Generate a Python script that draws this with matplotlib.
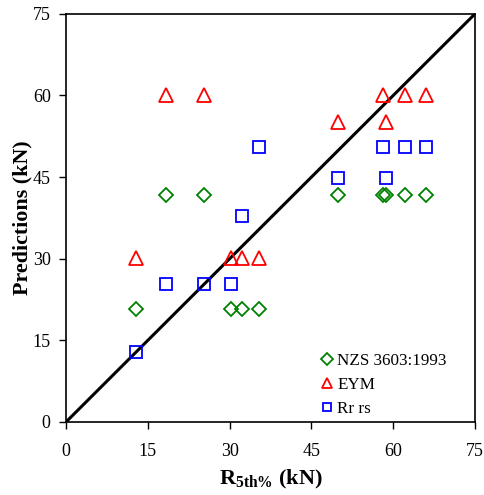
import matplotlib
matplotlib.use("Agg")
import matplotlib.pyplot as plt
import numpy as np

plt.rcParams['font.family'] = ['Liberation Serif', 'DejaVu Serif']
plt.rcParams['mathtext.fontset'] = 'custom'
plt.rcParams['mathtext.rm'] = 'Liberation Serif'
plt.rcParams['mathtext.bf'] = 'Liberation Serif:bold'

# Data
r5th = [12.8, 18.3, 25.3, 30.3, 32.3, 35.4, 49.9, 58.1, 58.7, 62.2, 66.0]
nzs = [20.8, 41.7, 41.7, 20.8, 20.8, 20.8, 41.7, 41.7, 41.7, 41.7, 41.7]
eym = [30.1, 60.1, 60.1, 30.1, 30.1, 30.1, 55.1, 60.1, 55.1, 60.1, 60.1]
rrrs = [12.9, 25.4, 25.4, 25.4, 37.9, 50.6, 44.9, 50.6, 44.9, 50.6, 50.6]
ticks = [0, 15, 30, 45, 60, 75]
lims = [0, 75]

fig = plt.figure(figsize=(4.84, 4.95), dpi=100)
ax = fig.add_axes([0.1364, 0.1475, 0.845, 0.8245])

ax.plot(lims, lims, color='black', lw=2.2, zorder=1)
ax.plot(r5th, nzs, ls='none', marker='D', ms=7.5, mfc='none', mec='#008000', mew=1.3,
        label='NZS 3603:1993', zorder=3)
ax.plot(r5th, eym, ls='none', marker='^', ms=9.5, mfc='none', mec='#ff0000', mew=1.3,
        label='EYM', zorder=3)
ax.plot(r5th, rrrs, ls='none', marker='s', ms=8, mfc='none', mec='#0000ff', mew=1.3,
        label='Rr rs', zorder=3)

ax.set_xlim(lims)
ax.set_ylim(lims)
ax.set_xticks(ticks)
ax.set_yticks(ticks)
ax.tick_params(direction='out', length=5, width=1, labelsize=13, pad=10)
ax.tick_params(axis='y', pad=6)
for s in ax.spines.values():
    s.set_linewidth(1.2)

ax.set_xlabel(r'$\mathbf{R_{5th\%}}$ (kN)', fontsize=16, fontweight='bold', labelpad=6)
ax.set_ylabel('Predictions (kN)', fontsize=15.8, fontweight='bold')
ax.yaxis.set_label_coords(-0.083, 0.50)

leg = ax.legend(loc='lower left', bbox_to_anchor=(0.584, -0.025), frameon=False, fontsize=12.3,
                handlelength=0.8, handletextpad=0.2, labelspacing=0.45, markerscale=0.75)

fig.savefig('out.png', dpi=100)
